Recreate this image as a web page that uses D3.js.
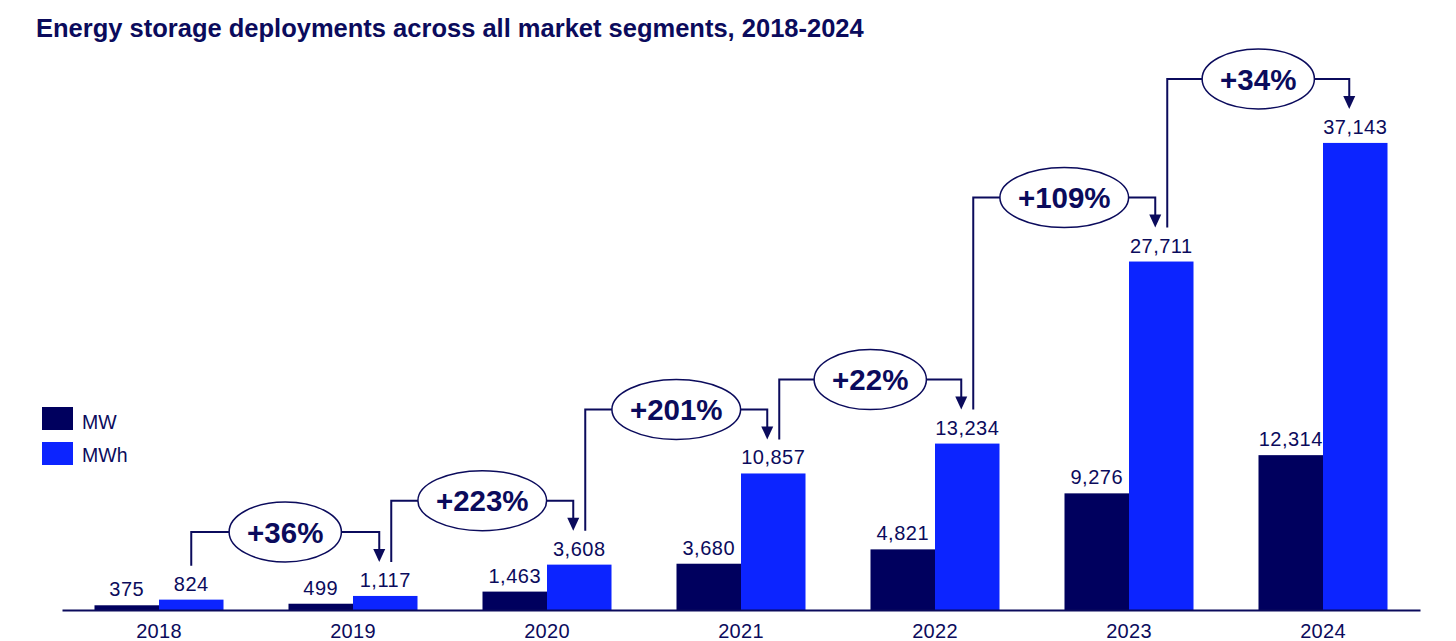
<!DOCTYPE html>
<html>
<head>
<meta charset="utf-8">
<script src="https://cdn.jsdelivr.net/npm/d3@7"></script>
<style>
  body { margin: 0; background: #fff; }
  svg { display: block; font-family: "Liberation Sans", Arial, sans-serif; }
</style>
</head>
<body>
<svg></svg>
<script>
// energy storage deployments, MW vs MWh per year

const width = 1456;
const height = 641;

const years = ["2018", "2019", "2020", "2021", "2022", "2023", "2024"];
const mw = [375, 499, 1463, 3680, 4821, 9276, 12314];
const mwh = [824, 1117, 3608, 10857, 13234, 27711, 37143];
const growth = ["+36%", "+223%", "+201%", "+22%", "+109%", "+34%"];
const seriesNames = ["MW", "MWh"];

const navy = "#0b0b5c";
const colors = { MW: "#00005e", MWh: "#0c24ff" };

let svg = d3.select("svg")
    .attr("width", width)
    .attr("height", height)

svg.append("text")
    .attr("x", 36)
    .attr("y", 37)
    .attr("font-size", 25.5)
    .attr("font-weight", "bold")
    .attr("fill", navy)
    .text("Energy storage deployments across all market segments, 2018-2024")

const x = d3.scaleBand()
    .domain(years)
    .range([62, 1420])
    .paddingInner(0.335)
    .paddingOuter(0.1675)

const xs = d3.scaleBand()
    .domain(seriesNames)
    .range([0, x.bandwidth()])

const y = d3.scaleLinear()
    .domain([0, 40000])
    .range([610, 107])

const rows = years.map((yr, i) => ({ year: yr, MW: mw[i], MWh: mwh[i] }))

const groups = svg.append("g")
    .selectAll("g")
    .data(rows)
    .join("g")
    .attr("transform", d => `translate(${x(d.year)},0)`)

groups.selectAll("rect")
    .data(d => seriesNames.map(k => ({ key: k, value: d[k] })))
    .join("rect")
    .attr("x", d => xs(d.key))
    .attr("width", xs.bandwidth())
    .attr("y", d => y(d.value))
    .attr("height", d => y(0) - y(d.value))
    .attr("fill", d => colors[d.key])

groups.selectAll("text")
    .data(d => seriesNames.map(k => ({ key: k, value: d[k] })))
    .join("text")
    .attr("x", d => xs(d.key) + xs.bandwidth() / 2)
    .attr("y", d => y(d.value) - 9)
    .attr("text-anchor", "middle")
    .attr("font-size", 20)
    .attr("letter-spacing", 0.5)
    .attr("fill", navy)
    .text(d => d3.format(",")(d.value))

// x axis
const axis = svg.append("g")
    .attr("transform", "translate(0,610)")
    .call(d3.axisBottom(x).tickSize(0).tickSizeOuter(0).tickPadding(14))

axis.select(".domain").attr("stroke", navy).attr("stroke-width", 2)
axis.selectAll("text")
    .attr("font-size", 20)
    .attr("letter-spacing", 0.3)
    .attr("font-family", "Liberation Sans, Arial, sans-serif")
    .attr("fill", navy)

// legend
const legend = svg.append("g")
seriesNames.forEach((k, i) => {
  legend.append("rect")
      .attr("x", 42)
      .attr("y", 407 + i * 35)
      .attr("width", 31)
      .attr("height", 23)
      .attr("fill", colors[k])
  legend.append("text")
      .attr("x", 82)
      .attr("y", 429 + i * 33)
      .attr("font-size", 19.5)
      .attr("fill", navy)
      .text(k)
})

// growth connectors between MWh bars
const mwhCenter = i => x(years[i]) + xs("MWh") + xs.bandwidth() / 2
const conn = svg.append("g")

growth.forEach((g, i) => {
  const x0 = mwhCenter(i) + (i === 0 ? 0 : 6)
  const x1 = mwhCenter(i + 1) - 6
  const y0 = y(mwh[i]) - 34
  const tip = y(mwh[i + 1]) - 34
  const level = tip - 30

  conn.append("path")
      .attr("d", `M${x0},${y0}V${level}H${x1}V${tip - 12}`)
      .attr("fill", "none")
      .attr("stroke", navy)
      .attr("stroke-width", 2)

  conn.append("path")
      .attr("d", `M${x1 - 6},${tip - 13}L${x1 + 6},${tip - 13}L${x1},${tip}Z`)
      .attr("fill", navy)

  const cx = (x0 + x1) / 2
  const ell = conn.append("ellipse")
      .attr("cx", cx)
      .attr("cy", level)
      .attr("ry", 30)
      .attr("fill", "#fff")
      .attr("stroke", navy)
      .attr("stroke-width", 1.5)

  const t = conn.append("text")
      .attr("x", cx)
      .attr("y", level)
      .attr("dy", "0.36em")
      .attr("text-anchor", "middle")
      .attr("font-size", 29.5)
      .attr("font-weight", "bold")
      .attr("fill", navy)
      .text(g)

  ell.attr("rx", t.node().getComputedTextLength() / 2 + 18)
})
</script>
</body>
</html>
